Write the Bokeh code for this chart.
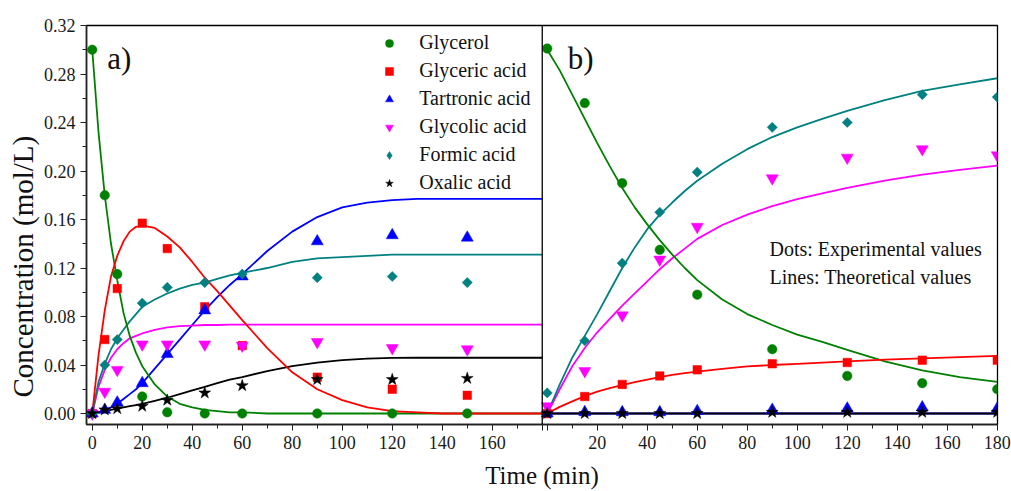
from bokeh.plotting import figure
from bokeh.models import (Range1d, LinearAxis, FixedTicker, CustomJSTickFormatter,
                          PrintfTickFormatter, Span, Label, Legend, LegendItem, Title)
from bokeh.embed import file_html
from bokeh.resources import INLINE
import math

# ---------------- data: panel a) ----------------
t_a = [0, 5, 10, 20, 30, 45, 60, 90, 120, 150]
glycerol_a = [0.300, 0.180, 0.115, 0.014, 0.001, 0.000, 0.000, 0.000, 0.000, 0.000]
glyceric_a = [0.000, 0.061, 0.103, 0.157, 0.136, 0.088, 0.056, 0.030, 0.020, 0.015]
tartronic_a = [0.000, 0.003, 0.009, 0.025, 0.049, 0.085, 0.113, 0.142, 0.147, 0.145]
glycolic_a = [0.000, 0.018, 0.036, 0.057, 0.057, 0.057, 0.056, 0.059, 0.054, 0.053]
formic_a = [0.000, 0.040, 0.061, 0.091, 0.104, 0.108, 0.115, 0.112, 0.113, 0.108]
oxalic_a = [0.000, 0.003, 0.004, 0.006, 0.011, 0.017, 0.023, 0.028, 0.028, 0.029]

t_line_a = [0, 2.5, 5, 7.5, 10, 12.5, 15, 17.5, 20, 25, 30, 35, 40, 45, 50, 55, 60,
            70, 80, 90, 100, 110, 120, 130, 140, 160, 180]
glycerol_a_line = [0.300, 0.232, 0.180, 0.140, 0.110, 0.083, 0.064, 0.050, 0.039, 0.024,
                   0.014, 0.008, 0.005, 0.003, 0.002, 0.001, 0.001, 0.0, 0.0, 0.0, 0.0,
                   0.0, 0.0, 0.0, 0.0, 0.0, 0.0]
glyceric_a_line = [0.0, 0.048, 0.085, 0.113, 0.130, 0.142, 0.150, 0.154, 0.155, 0.153,
                   0.146, 0.137, 0.125, 0.112, 0.101, 0.089, 0.077, 0.054, 0.034, 0.020,
                   0.011, 0.005, 0.002, 0.001, 0.0, 0.0, 0.0]
tartronic_a_line = [0.0, 0.001, 0.003, 0.005, 0.008, 0.012, 0.016, 0.020, 0.025, 0.037,
                    0.049, 0.061, 0.073, 0.085, 0.096, 0.106, 0.115, 0.134, 0.150, 0.162,
                    0.170, 0.174, 0.176, 0.177, 0.177, 0.177, 0.177]
glycolic_a_line = [0.0, 0.022, 0.036, 0.046, 0.053, 0.058, 0.062, 0.064, 0.066, 0.069,
                   0.071, 0.072, 0.0725, 0.073, 0.073, 0.0733, 0.0733, 0.0733, 0.0733,
                   0.0733, 0.0733, 0.0733, 0.0733, 0.0733, 0.0733, 0.0733, 0.0733]
formic_a_line = [0.0, 0.026, 0.041, 0.053, 0.062, 0.069, 0.076, 0.082, 0.088, 0.094,
                 0.099, 0.103, 0.106, 0.108, 0.111, 0.114, 0.116, 0.120, 0.125, 0.128,
                 0.129, 0.130, 0.131, 0.131, 0.131, 0.131, 0.131]
oxalic_a_line = [0.0, 0.001, 0.002, 0.003, 0.004, 0.005, 0.006, 0.007, 0.008, 0.0105,
                 0.013, 0.016, 0.019, 0.022, 0.025, 0.028, 0.030, 0.035, 0.039, 0.042,
                 0.044, 0.0452, 0.0458, 0.046, 0.046, 0.046, 0.046]

# ---------------- data: panel b) ----------------
t_b = [0, 15, 30, 45, 60, 90, 120, 150, 180]
glycerol_b = [0.301, 0.256, 0.190, 0.135, 0.098, 0.053, 0.031, 0.025, 0.020]
glyceric_b = [0.000, 0.014, 0.024, 0.031, 0.036, 0.041, 0.042, 0.044, 0.044]
tartronic_b = [0.000, 0.001, 0.001, 0.001, 0.002, 0.003, 0.004, 0.005, 0.004]
glycolic_b = [0.006, 0.035, 0.081, 0.127, 0.154, 0.194, 0.211, 0.218, 0.213]
formic_b = [0.017, 0.060, 0.124, 0.166, 0.199, 0.236, 0.240, 0.263, 0.261]
oxalic_b = [0.000, 0.000, 0.000, 0.000, 0.000, 0.001, 0.001, 0.001, 0.001]

t_line_b = [0, 5, 10, 15, 20, 25, 30, 35, 40, 45, 50, 55, 60, 70, 80, 90, 100, 110, 120,
            135, 150, 165, 180]
glycerol_b_line = [0.300, 0.283, 0.263, 0.243, 0.223, 0.204, 0.186, 0.170, 0.156, 0.143,
                   0.131, 0.120, 0.110, 0.094, 0.082, 0.073, 0.065, 0.059, 0.0525,
                   0.043, 0.0355, 0.030, 0.026]
glyceric_b_line = [0.0, 0.0055, 0.010, 0.0143, 0.018, 0.021, 0.0235, 0.0258, 0.028, 0.030,
                   0.0318, 0.0333, 0.0345, 0.0368, 0.0388, 0.040, 0.041, 0.042, 0.043,
                   0.0445, 0.0455, 0.0465, 0.0475]
tartronic_b_line = [0.0] * 23
glycolic_b_line = [0.0, 0.020, 0.039, 0.054, 0.067, 0.078, 0.089, 0.099, 0.109, 0.119,
                   0.128, 0.136, 0.144, 0.1555, 0.164, 0.171, 0.1768, 0.1815, 0.186,
                   0.192, 0.197, 0.201, 0.2045]
formic_b_line = [0.0, 0.024, 0.046, 0.064, 0.082, 0.101, 0.120, 0.137, 0.152, 0.164,
                 0.174, 0.1835, 0.192, 0.206, 0.218, 0.228, 0.236, 0.243, 0.2495,
                 0.2585, 0.266, 0.2715, 0.2765]
oxalic_b_line = [0.0] * 23

series_names = ["Glycerol", "Glyceric acid", "Tartronic acid", "Glycolic acid",
                "Formic acid", "Oxalic acid"]
x_major = [0, 20, 40, 60, 80, 100, 120, 140, 160, 180]
x_minor = [10, 30, 50, 70, 90, 110, 130, 150, 170]
y_major = [0.00, 0.04, 0.08, 0.12, 0.16, 0.20, 0.24, 0.28, 0.32]
y_minor = [0.02, 0.06, 0.10, 0.14, 0.18, 0.22, 0.26, 0.30]

# ---------------- styling ----------------
FONT = "Liberation Serif"
GREEN, RED, BLUE, MAG, TEAL, BLACK = "#008000", "#ff0000", "#0000ff", "#ff00ff", "#008080", "#000000"
colors = [GREEN, RED, BLUE, MAG, TEAL, BLACK]
markers = [("circle", 9.5, 0.0), ("square", 8.5, 0.0), ("triangle", 12, 0.0),
           ("inverted_triangle", 12, 0.0), ("square", 7.2, math.pi / 4), ("star", 12.5, 0.0)]

OFFSET = 182.0          # where panel b) starts on the shared horizontal scale
X0 = -2.3
W, H = 1011, 491
BL, BR, BT, BB = 86, 14, 25, 67
X1 = X0 + (W - BL - BR) / 2.5
Y0, Y1 = -0.00907, 0.32

p = figure(width=W, height=H, output_backend="svg", toolbar_location=None,
           x_range=Range1d(X0, X1), y_range=Range1d(Y0, Y1),
           x_axis_type=None, y_axis_type=None,
           min_border_left=BL, min_border_right=BR, min_border_top=BT, min_border_bottom=BB)
p.extra_x_ranges = {"b": Range1d(X0 - OFFSET, X1 - OFFSET)}
p.background_fill_color = "white"
p.border_fill_color = "white"
p.outline_line_color = "black"
p.outline_line_width = 1.3

# axes
xt = x_major + [OFFSET + v for v in x_major]
xm = x_minor + [OFFSET + v for v in x_minor]
xaxis = LinearAxis(
    ticker=FixedTicker(ticks=xt, minor_ticks=xm),
    formatter=CustomJSTickFormatter(args=dict(off=OFFSET), code="""
        if (tick < 170) { return tick.toFixed(0); }
        if (tick > off + 5) { return (tick - off).toFixed(0); }
        return "";
    """),
    axis_label="Time (min)")
yaxis = LinearAxis(ticker=FixedTicker(ticks=y_major, minor_ticks=y_minor),
                   formatter=PrintfTickFormatter(format="%.2f"))
for ax in (xaxis, yaxis):
    ax.axis_line_color = "#222222"
    ax.axis_line_width = 1.6
    ax.major_tick_line_color = "#222222"
    ax.minor_tick_line_color = "#222222"
    ax.major_tick_out = 6
    ax.major_tick_in = 0
    ax.minor_tick_out = 4
    ax.minor_tick_in = 0
    ax.major_label_text_font = FONT
    ax.major_label_text_font_size = "18px"
    ax.major_label_text_color = "#1a1a1a"
    ax.axis_label_text_font = FONT
    ax.axis_label_text_font_style = "normal"
    ax.axis_label_text_color = "#111111"
xaxis.major_label_standoff = 5
xaxis.axis_label_standoff = 10
xaxis.axis_label_text_font_size = "25px"
yaxis.major_label_standoff = 5
p.add_layout(xaxis, "below")
p.add_layout(yaxis, "left")

# y title, shifted towards the bottom as in the original
p.add_layout(Title(text="Concentration (mol/L)", align="left", offset=27,
                   text_font=FONT, text_font_size="29px", text_font_style="normal",
                   text_color="#111111", standoff=4), "left")

# divider between the two panels
p.add_layout(Span(location=180, dimension="height", line_color="black", line_width=1.3))

lines_a = [glycerol_a_line, glyceric_a_line, tartronic_a_line, glycolic_a_line,
           formic_a_line, oxalic_a_line]
pts_a = [glycerol_a, glyceric_a, tartronic_a, glycolic_a, formic_a, oxalic_a]
lines_b = [glycerol_b_line, glyceric_b_line, tartronic_b_line, glycolic_b_line,
           formic_b_line, oxalic_b_line]
pts_b = [glycerol_b, glyceric_b, tartronic_b, glycolic_b, formic_b, oxalic_b]

# first formic point as a diamond (gives the legend its diamond key; hidden under the others)
formic_key = p.scatter(t_a[:1], formic_a[:1], marker="diamond", size=10,
                       fill_color=TEAL, line_color=TEAL, line_width=0.5)

for i in [2, 3, 4, 5, 0, 1]:
    p.line(t_line_a, lines_a[i], line_color=colors[i], line_width=1.8)
for i in [2, 3, 4, 0, 1, 5]:
    p.line(t_line_b, lines_b[i], line_color=colors[i], line_width=1.8, x_range_name="b")

legend_renderers = {}
for i in range(6):
    m, s, ang = markers[i]
    legend_renderers[i] = p.scatter(t_a, pts_a[i], marker=m, size=s, angle=ang,
                                    fill_color=colors[i], line_color=colors[i],
                                    line_width=0.5)
for i in range(6):
    m, s, ang = markers[i]
    p.scatter(t_b, pts_b[i], marker=m, size=s, angle=ang, fill_color=colors[i],
              line_color=colors[i], line_width=0.5, x_range_name="b")
legend_renderers[4] = formic_key

legend = Legend(items=[LegendItem(label=series_names[i], renderers=[legend_renderers[i]])
                       for i in range(6)],
                location=(293.3, 229.3), orientation="vertical",
                glyph_width=20, glyph_height=24, label_height=24, spacing=4,
                padding=0, margin=0, label_standoff=20,
                border_line_color=None, background_fill_alpha=0,
                label_text_font=FONT, label_text_font_size="20px",
                label_text_color="#111111")
p.add_layout(legend)

p.add_layout(Label(x=6.0, y=0.2925, text="a)", text_font=FONT, text_font_size="31px",
                   text_baseline="alphabetic", text_color="#111111"))
p.add_layout(Label(x=8.2, y=0.2925, x_range_name="b", text="b)", text_font=FONT,
                   text_font_size="31px", text_baseline="alphabetic", text_color="#111111"))
p.add_layout(Label(x=88.9, y=0.1355, x_range_name="b", text="Dots: Experimental values",
                   text_font=FONT, text_font_size="20px", text_baseline="alphabetic",
                   text_color="#111111"))
p.add_layout(Label(x=88.9, y=0.1124, x_range_name="b", text="Lines: Theoretical values",
                   text_font=FONT, text_font_size="20px", text_baseline="alphabetic",
                   text_color="#111111"))

open("out.html", "w").write(file_html(p, INLINE))
